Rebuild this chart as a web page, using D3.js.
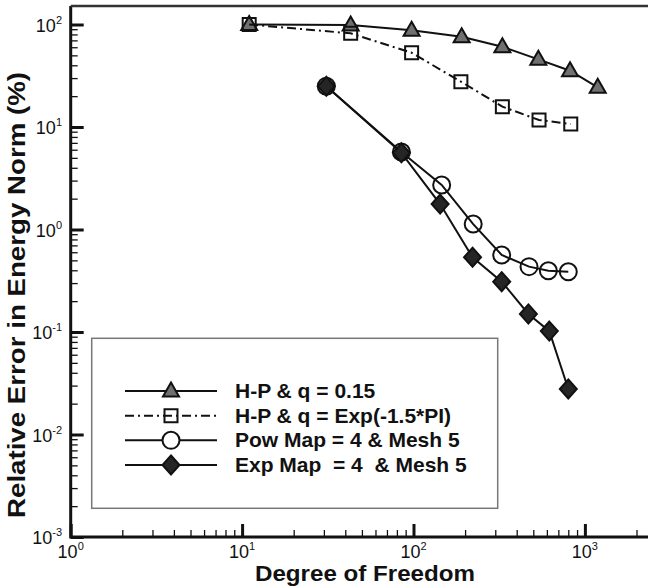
<!DOCTYPE html>
<html>
<head>
<meta charset="utf-8">
<script src="https://cdn.jsdelivr.net/npm/d3@7"></script>
<style>
  body { margin: 0; background: #fff; }
  text { font-family: "Liberation Sans", Arial, sans-serif; fill: #111; }
</style>
</head>
<body>
<div id="chart"></div>
<script>
// Data (degree of freedom vs. relative error %)
var hpQ015Dof = [11, 43, 97.5, 191, 330, 535, 819, 1188];
var hpQ015Err = [100, 99, 88, 76, 60.7, 45.7, 35.4, 24.4];

var hpQExpDof = [11, 43, 97.5, 189, 330, 540, 827];
var hpQExpErr = [100, 82, 53, 27.7, 15.8, 11.7, 10.7];

var powMapDof = [31, 85, 146, 223, 327, 472, 612, 800];
var powMapErr = [25, 5.7, 2.72, 1.13, 0.564, 0.434, 0.396, 0.387];

var expMapDof = [31, 85, 143, 221, 327, 468, 620, 800];
var expMapErr = [25, 5.6, 1.77, 0.536, 0.31, 0.150, 0.102, 0.0278];

var seriesNames = ["H-P & q = 0.15", "H-P & q = Exp(-1.5*PI)", "Pow Map = 4 & Mesh 5", "Exp Map  = 4  & Mesh 5"];
var xTickExps = [0, 1, 2, 3];
var yTickExps = [-3, -2, -1, 0, 1, 2];

// Figure size and margins
var svgWidth = 648;
var svgHeight = 588;
var margin = { top: 6, left: 70.7, bottom: 51 };

var svg = d3.select("#chart")
  .append("svg")
  .attr("width", svgWidth)
  .attr("height", svgHeight);

// Log scales (decade ~171px wide, ~102.5px tall)
var xScale = d3.scaleLog()
  .domain([1, Math.pow(10, 3.4)])
  .range([margin.left, margin.left + 3.4 * 171.4]);

var yScale = d3.scaleLog()
  .domain([1e-3, Math.pow(10, 2.18)])
  .range([537, 537 - 5.18 * 102.5]);

var x0 = xScale.range()[0];
var y0 = yScale.range()[0];
var yTop = yScale.range()[1];

// Minor / major ticks
var xMinor = [];
for (var e = 0; e <= 3; e++) {
  for (var m = 2; m <= 9; m++) {
    var v = m * Math.pow(10, e);
    if (v <= xScale.domain()[1]) xMinor.push(v);
  }
}
var yMinor = [];
for (var e = -3; e <= 2; e++) {
  for (var m = 2; m <= 9; m++) {
    var v = m * Math.pow(10, e);
    if (v <= yScale.domain()[1]) yMinor.push(v);
  }
}

var xAxisMinor = d3.axisTop(xScale).tickValues(xMinor).tickSize(7).tickFormat("");
var xAxisMajor = d3.axisTop(xScale).tickValues(xTickExps.map(d => Math.pow(10, d))).tickSize(13).tickFormat("");
var yAxisMinor = d3.axisRight(yScale).tickValues(yMinor).tickSize(7).tickFormat("");
var yAxisMajor = d3.axisRight(yScale).tickValues(yTickExps.map(d => Math.pow(10, d))).tickSize(13).tickFormat("");

function styleAxis(g, w) {
  g.select(".domain").remove();
  g.selectAll(".tick line").attr("stroke", "#111").attr("stroke-width", w);
}

svg.append("g").attr("transform", `translate(0, ${y0})`).call(xAxisMinor).call(g => styleAxis(g, 1.3));
svg.append("g").attr("transform", `translate(0, ${y0})`).call(xAxisMajor).call(g => styleAxis(g, 3));
svg.append("g").attr("transform", `translate(${x0}, 0)`).call(yAxisMinor).call(g => styleAxis(g, 1.3));
svg.append("g").attr("transform", `translate(${x0}, 0)`).call(yAxisMajor).call(g => styleAxis(g, 3));

// Frame: left axis, bottom axis, top line
svg.append("line").attr("x1", x0).attr("x2", x0).attr("y1", yTop).attr("y2", y0 + 1.5)
  .attr("stroke", "#111").attr("stroke-width", 3);
svg.append("line").attr("x1", x0).attr("x2", svgWidth).attr("y1", y0).attr("y2", y0)
  .attr("stroke", "#111").attr("stroke-width", 3);
svg.append("line").attr("x1", x0).attr("x2", svgWidth).attr("y1", yTop).attr("y2", yTop)
  .attr("stroke", "#333").attr("stroke-width", 2.5);

// Power-of-ten tick labels
function powLabel(g, exp, x, y, anchor) {
  var t = g.append("text")
    .attr("x", x).attr("y", y)
    .attr("text-anchor", anchor)
    .style("font-size", "18px");
  t.append("tspan").text("10");
  t.append("tspan").attr("dy", -8).style("font-size", "11px").text(exp);
}

xTickExps.forEach(function(d) {
  powLabel(svg, d, xScale(Math.pow(10, d)), 558, "middle");
});
yTickExps.forEach(function(d) {
  powLabel(svg, d, 62, yScale(Math.pow(10, d)) + 7, "end");
});

// Axis titles
svg.append("text")
  .attr("x", 365).attr("y", 581)
  .attr("text-anchor", "middle")
  .attr("textLength", 220).attr("lengthAdjust", "spacingAndGlyphs")
  .style("font-size", "22px").style("font-weight", "bold")
  .text("Degree of Freedom");

svg.append("text")
  .attr("transform", "translate(25, 295) rotate(-90)")
  .attr("text-anchor", "middle")
  .attr("textLength", 446).attr("lengthAdjust", "spacingAndGlyphs")
  .style("font-size", "23px").style("font-weight", "bold")
  .text("Relative Error in Energy Norm (%)");

// Marker shapes
var markers = {
  triangle: { d: "M0,-8.5 L8,5.5 L-8,5.5 Z", fill: "#707070" },
  square: { d: "M-6.5,-6.5 H6.5 V6.5 H-6.5 Z", fill: "none" },
  circle: { d: "M8.5,0 A8.5,8.5 0 1,1 -8.5,0 A8.5,8.5 0 1,1 8.5,0 Z", fill: "none" },
  diamond: { d: "M0,-9.5 L8.5,0 L0,9.5 L-8.5,0 Z", fill: "#252525" }
};

var series = [
  { name: seriesNames[0], dof: hpQ015Dof, err: hpQ015Err, marker: "triangle", dash: null },
  { name: seriesNames[1], dof: hpQExpDof, err: hpQExpErr, marker: "square", dash: "9,4,2,4" },
  { name: seriesNames[2], dof: powMapDof, err: powMapErr, marker: "circle", dash: null },
  { name: seriesNames[3], dof: expMapDof, err: expMapErr, marker: "diamond", dash: null }
];

var line = d3.line()
  .x(d => xScale(d[0]))
  .y(d => yScale(d[1]));

var plotGroup = svg.append("g");

series.forEach(function(s) {
  var pts = s.dof.map((d, i) => [d, s.err[i]]);
  plotGroup.append("path")
    .datum(pts)
    .attr("d", line)
    .attr("fill", "none")
    .attr("stroke", "#111")
    .attr("stroke-width", 2)
    .attr("stroke-dasharray", s.dash);
  plotGroup.selectAll(null)
    .data(pts)
    .enter()
    .append("path")
    .attr("d", markers[s.marker].d)
    .attr("transform", d => `translate(${xScale(d[0])}, ${yScale(d[1])})`)
    .attr("fill", markers[s.marker].fill)
    .attr("stroke", "#111")
    .attr("stroke-width", 2);
});

// Legend
var legend = svg.append("g");
legend.append("rect")
  .attr("x", 91.7).attr("y", 338.3)
  .attr("width", 406).attr("height", 170)
  .attr("fill", "#fff")
  .attr("stroke", "#777")
  .attr("stroke-width", 1.5);

var legendRowY = d3.scalePoint()
  .domain(seriesNames)
  .range([391, 465]);

series.forEach(function(s) {
  var y = legendRowY(s.name);
  legend.append("line")
    .attr("x1", 125).attr("x2", 217).attr("y1", y).attr("y2", y)
    .attr("stroke", "#111").attr("stroke-width", 2)
    .attr("stroke-dasharray", s.dash);
  legend.append("path")
    .attr("d", markers[s.marker].d)
    .attr("transform", `translate(171, ${y})`)
    .attr("fill", s.marker === "circle" ? "#fff" : markers[s.marker].fill)
    .attr("stroke", "#111")
    .attr("stroke-width", 2);
  legend.append("text")
    .attr("x", 235).attr("y", y + 7)
    .style("font-size", "21px").style("font-weight", "bold")
    .style("white-space", "pre")
    .text(s.name);
});
</script>
</body>
</html>
